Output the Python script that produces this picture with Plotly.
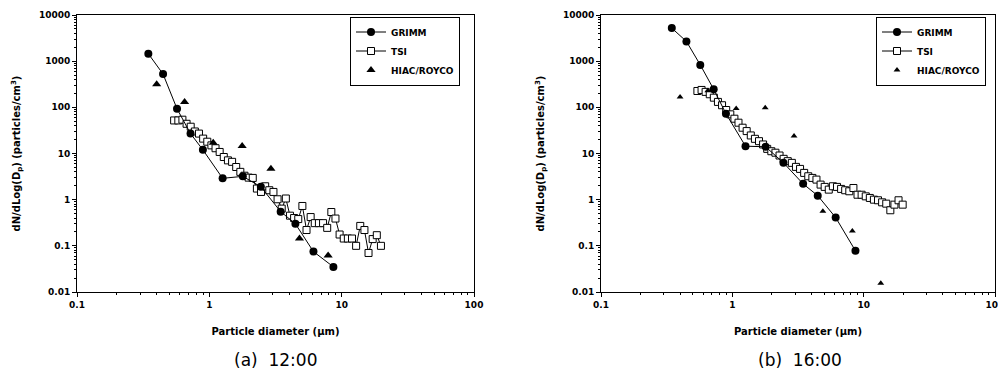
import plotly.graph_objects as go

# ---------------- data ----------------
tsi_diam = [0.542, 0.583, 0.626, 0.673, 0.723, 0.777, 0.835, 0.898, 0.965, 1.037,
            1.114, 1.197, 1.286, 1.382, 1.486, 1.596, 1.715, 1.843, 1.981, 2.129,
            2.288, 2.458, 2.642, 2.839, 3.051, 3.278, 3.523, 3.786, 4.068, 4.371,
            4.698, 5.048, 5.425, 5.829, 6.264, 6.732, 7.234, 7.774, 8.354, 8.977,
            9.647, 10.37, 11.14, 11.97, 12.86, 13.82, 14.86, 15.96, 17.15, 18.43, 19.81]

tsi_a = [52, 52, 54, 44, 38, 30, 27, 21, 18, 15,
         13, 10.8, 8.4, 7.1, 6.6, 5.1, 4.0, 3.3, 3.0, 2.96,
         1.74, 1.47, 1.95, 1.6, 1.47, 1.02, 0.64, 1.06, 0.45, 0.40,
         0.38, 0.73, 0.22, 0.42, 0.31, 0.31, 0.31, 0.245, 0.54, 0.39,
         0.176, 0.144, 0.144, 0.144, 0.10, 0.27, 0.22, 0.070, 0.14, 0.17, 0.10]

tsi_b = [226, 238, 216, 192, 162, 131, 111, 87.5, 70.5, 56.7,
         46.5, 36.2, 30.6, 24.6, 20.8, 18.5, 15.7, 12.6, 11.2, 10.4,
         9.05, 7.66, 6.82, 6.27, 5.13, 4.64, 3.80, 3.21, 2.96, 2.72,
         2.12, 1.89, 1.65, 1.95, 1.89, 1.71, 1.60, 1.52, 1.79, 1.28,
         1.28, 1.18, 1.09, 1.0, 0.97, 0.875, 0.82, 0.59, 0.78, 0.97, 0.78]

grimm_diam = [0.346, 0.447, 0.570, 0.721, 0.894, 1.26, 1.79, 2.45, 3.46, 4.47, 6.12, 8.66]
grimm_a = [1450, 525, 93, 27, 12, 2.9, 3.2, 1.9, 0.55, 0.30, 0.075, 0.035]
grimm_b = [5200, 2680, 830, 246, 73, 14.4, 14, 6.3, 2.2, 1.22, 0.41, 0.078]

hiac_diam_a = [0.40, 0.65, 1.07, 1.77, 2.92, 4.8, 7.9]
hiac_a = [316, 130, 17, 14.5, 4.7, 0.145, 0.062]
hiac_diam_b = [0.40, 0.65, 1.07, 1.78, 2.95, 4.89, 8.2, 13.5]
hiac_b = [168, 230, 94, 98, 23.8, 0.56, 0.21, 0.0155]

y_ticks = [0.01, 0.1, 1, 10, 100, 1000, 10000]
y_ticktext = ["0.01", "0.1", "1", "10", "100", "1000", "10000"]
x_ticks = [0.1, 1, 10, 100]
x_ticktext = ["0.1", "1", "10", "100"]
captions = ["(a)  12:00", "(b)  16:00"]

# ---------------- figure ----------------
fig = go.Figure()
FONT = "DejaVu Sans, sans-serif"

panels = [
    dict(x="x", y="y", legend="legend", tsi=tsi_a, grimm=grimm_a,
         hd=hiac_diam_a, hv=hiac_a, tri=8),
    dict(x="x2", y="y2", legend="legend2", tsi=tsi_b, grimm=grimm_b,
         hd=hiac_diam_b, hv=hiac_b, tri=6),
]

for p in panels:
    fig.add_trace(go.Scatter(
        x=tsi_diam, y=p["tsi"], name="TSI", mode="lines+markers",
        xaxis=p["x"], yaxis=p["y"], legend=p["legend"], legendrank=2,
        line=dict(color="black", width=1),
        marker=dict(symbol="square", size=7, color="white",
                    line=dict(color="black", width=1))))
    fig.add_trace(go.Scatter(
        x=grimm_diam, y=p["grimm"], name="GRIMM", mode="lines+markers",
        xaxis=p["x"], yaxis=p["y"], legend=p["legend"], legendrank=1,
        line=dict(color="black", width=1),
        marker=dict(symbol="circle", size=8, color="black")))
    fig.add_trace(go.Scatter(
        x=p["hd"], y=p["hv"], name="HIAC/ROYCO", mode="markers",
        xaxis=p["x"], yaxis=p["y"], legend=p["legend"], legendrank=3,
        marker=dict(symbol="triangle-up", size=p["tri"], color="black")))

minor_y = [m * 10 ** e for e in range(-2, 4) for m in range(2, 10)]
minor_x = [m * 10 ** e for e in range(-1, 2) for m in range(2, 10)]

# the page body has an 8px margin: positions below are page pixels minus it
OFF = 8
W, H = 1006 - OFF, 374 - OFF


def fx(px):
    return (px - OFF) / W


def fy(py):
    return 1 - (py - OFF) / H


ydom = [fy(292), fy(15)]

axis_common = dict(type="log", showline=True, linecolor="black", linewidth=1,
                   mirror=True, ticks="outside", ticklen=4, tickcolor="black",
                   showgrid=False, zeroline=False, automargin=False,
                   ticklabeloverflow="allow",
                   tickfont=dict(family=FONT, size=9, color="black", weight="bold"))

xtitle = dict(text="Particle diameter (μm)",
              font=dict(family=FONT, size=10, color="black", weight="bold"),
              standoff=19)
ytitle = dict(text="dN/dLog(D<sub>p</sub>) (particles/cm<sup>3</sup>)",
              font=dict(family=FONT, size=10, color="black", weight="bold"), standoff=16)

for xa, ya, xd in [("xaxis", "yaxis", [fx(77), fx(474)]),
                   ("xaxis2", "yaxis2", [fx(601), fx(995)])]:
    anchor_y = "y" if ya == "yaxis" else "y2"
    anchor_x = "x" if xa == "xaxis" else "x2"
    fig.layout[xa] = dict(axis_common, domain=xd, anchor=anchor_y,
                          range=[-1, 2], tickmode="array", tickvals=x_ticks,
                          ticktext=x_ticktext, title=xtitle,
                          minor=dict(tickmode="array", tickvals=minor_x,
                                     ticks="outside", ticklen=2, tickcolor="black"))
    fig.layout[ya] = dict(axis_common, domain=ydom, anchor=anchor_x,
                          range=[-2, 4], tickmode="array", tickvals=y_ticks,
                          ticktext=y_ticktext, title=ytitle,
                          minor=dict(tickmode="array", tickvals=minor_y,
                                     ticks="outside", ticklen=2, tickcolor="black"))

legend_common = dict(bgcolor="white", bordercolor="black", borderwidth=1,
                     font=dict(family=FONT, size=9, color="black", weight="bold"),
                     xanchor="left", yanchor="middle", tracegroupgap=0,
                     itemwidth=30, traceorder="normal")
fig.update_layout(
    legend=dict(legend_common, x=fx(350), y=fy(51)),
    legend2=dict(legend_common, x=fx(876), y=fy(51)),
)

for cx, txt in zip([275, 800], captions):
    fig.add_annotation(x=fx(cx), y=fy(360), xref="paper", yref="paper",
                       text=txt, showarrow=False, xanchor="center", yanchor="middle",
                       font=dict(family=FONT, size=17, color="black"))

fig.update_layout(width=W, height=H,
                  margin=dict(l=0, r=0, t=0, b=0, autoexpand=False),
                  paper_bgcolor="white", plot_bgcolor="white", showlegend=True)

fig.write_html("out.html")
